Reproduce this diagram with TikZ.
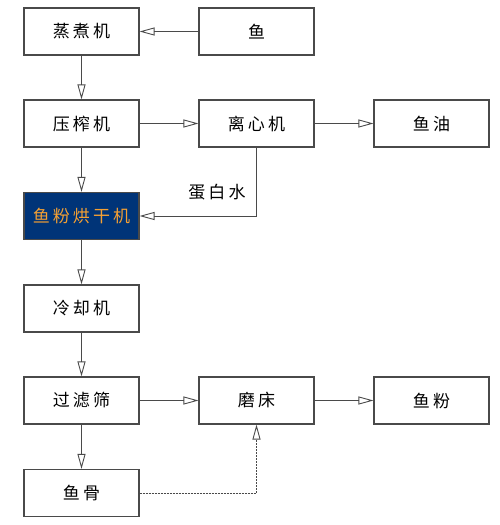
\documentclass[tikz,border=0pt]{standalone}
\usepackage{fontspec}
\newfontfamily\cjk[LetterSpace=18]{Noto Sans CJK SC}
\usetikzlibrary{arrows.meta}
\definecolor{boxline}{HTML}{4A4A4A}
\definecolor{navy}{HTML}{003478}
\definecolor{orangetxt}{HTML}{F5A033}
\tikzset{
  box/.style={draw=boxline, line width=1.1pt, rectangle, minimum width=115pt, minimum height=47pt, inner sep=0pt, font=\cjk\fontsize{17}{20}\selectfont, text=black},
  hot/.style={box, fill=navy, text=orangetxt},
  flow/.style={draw=boxline, line width=0.9pt, -{Triangle[open, length=15pt, width=8pt]}},
  dflow/.style={flow, dash pattern=on 2pt off 1pt}
}
\begin{document}
\begin{tikzpicture}[x=1pt,y=-1pt]
\useasboundingbox (0,0) rectangle (500,525);
\node[box] (steam) at (81.5,31.5) {蒸煮机};
\node[box] (fish) at (256.5,31.5) {鱼};
\node[box] (press) at (81.5,123.5) {压榨机};
\node[box] (cent) at (256.5,123.5) {离心机};
\node[box] (oil) at (431.5,123.5) {鱼油};
\node[hot] (dry) at (81.5,216) {鱼粉烘干机};
\node[box] (cool) at (81.5,308.5) {冷却机};
\node[box] (sieve) at (81.5,400.5) {过滤筛};
\node[box] (mill) at (256.5,400.5) {磨床};
\node[box] (meal) at (431.5,400.5) {鱼粉};
\node[box] (bone) at (81.5,493) {鱼骨};
\node[font=\cjk\fontsize{17}{20}\selectfont] (water) at (217,192) {蛋白水};
\coordinate (turn1) at (cent.south |- dry.east);
\coordinate (turn2) at (mill.south |- bone.east);
\draw[flow] (fish) -- (steam);
\draw[flow] (steam) -- (press);
\draw[flow] (press) -- (cent);
\draw[flow] (cent) -- (oil);
\draw[flow] (press) -- (dry);
\draw[flow] (cent.south) -- (turn1) -- (dry.east);
\draw[flow] (dry) -- (cool);
\draw[flow] (cool) -- (sieve);
\draw[flow] (sieve) -- (mill);
\draw[flow] (mill) -- (meal);
\draw[flow] (sieve) -- (bone);
\draw[dflow] (bone.east) -- (turn2) -- (mill.south);
\end{tikzpicture}
\end{document}
